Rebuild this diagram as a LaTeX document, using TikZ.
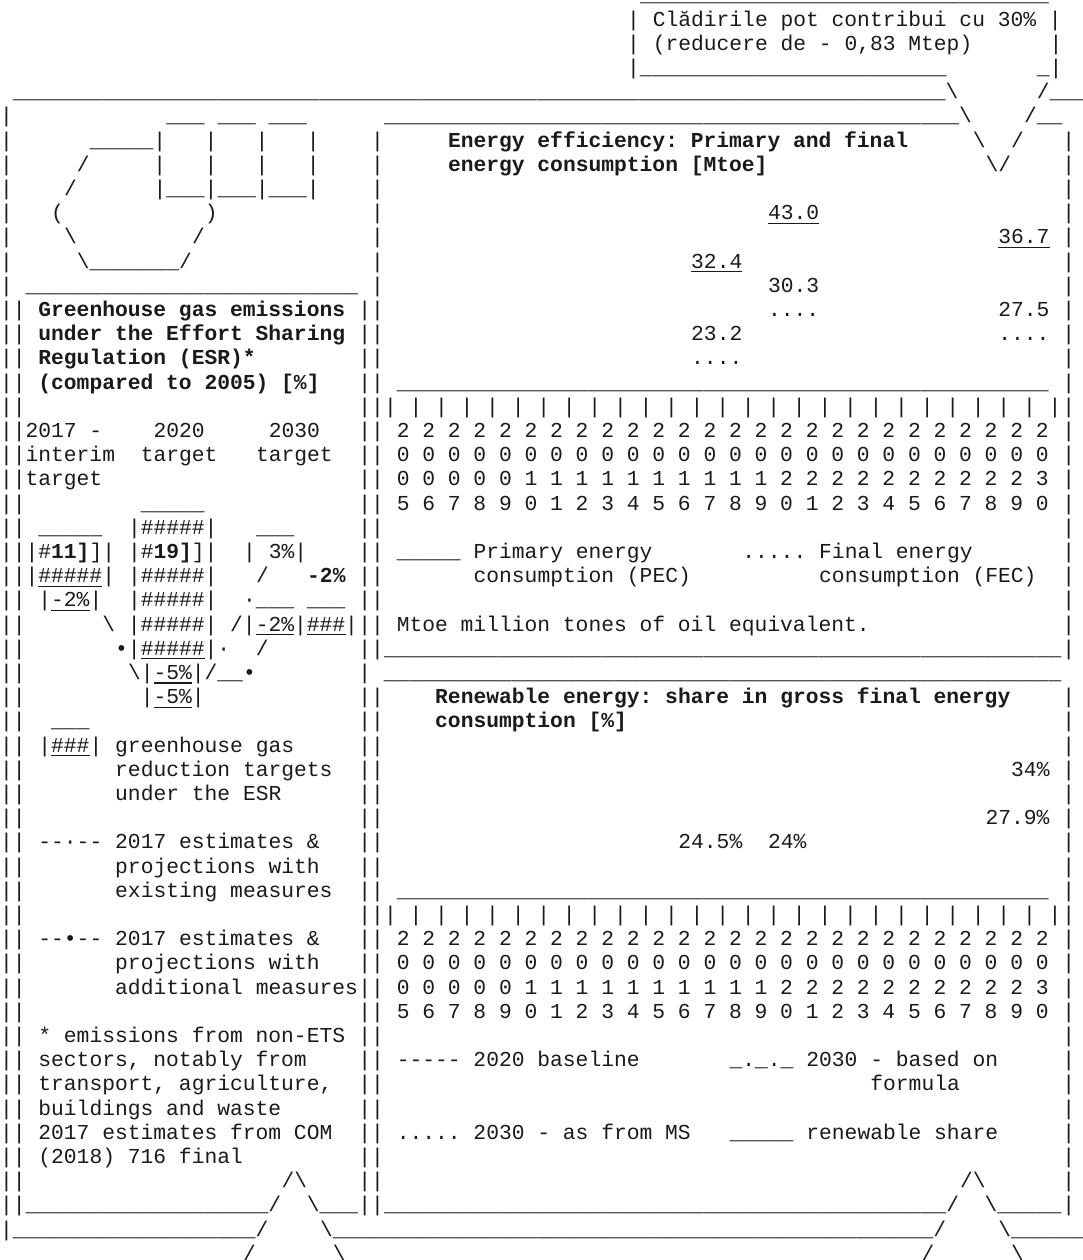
\documentclass[tikz,border=0pt]{standalone}
\usepackage{fontspec}
\setmonofont{Liberation Mono}
\usepackage{tikz}
\definecolor{ink}{HTML}{1A1A1A}
\newcommand{\cw}{12.8}
\newcommand{\rh}{24.2}
\tikzset{
  asc/.style={anchor=base west, inner sep=0pt, outer sep=0pt, text=ink,
    font=\ttfamily\fontsize{10.65pt}{12pt}\selectfont},
  hd/.style={asc, font=\ttfamily\bfseries\fontsize{10.65pt}{12pt}\selectfont},
  uline/.style={draw=ink, line width=0.55pt}
}
% text on the character grid: row, column
\newcommand{\gridtxt}[4][asc]{\node[#1] (c#2x#3) at ({(#3)*\cw},{1.8+(#2)*\rh}) {#4};}
\newcommand{\gridul}[3]{\draw[uline] ({(#2)*\cw},{1.8+(#1)*\rh+3.6}) -- ++({(#3)*\cw},0);}
\newcommand{\us}[1]{\foreach \uk in {1,...,#1}{\_}}
\newcommand{\ticks}{|\foreach \uk in {1,...,26}{~|}}

\begin{document}
\begin{tikzpicture}[x=0.5pt, y=-0.5pt]
  \fill[white] (0,0) rectangle (1083,1260);
  \useasboundingbox (0,0) rectangle (1083,1260);

  % Callout
  \gridtxt{0}{50}{\us{32}}
  \gridtxt{1}{49}{| Clădirile pot contribui cu 30\% |}
  \gridtxt{2}{49}{|}
  \gridtxt{2}{51}{(reducere de - 0,83 Mtep)}
  \gridtxt{2}{82}{|}
  \gridtxt{3}{49}{|\us{24}}
  \gridtxt{3}{81}{\_|}
  \gridtxt{4}{1}{\us{73}\textbackslash}
  \gridtxt{4}{81}{/\us{4}}
  \gridtxt{5}{30}{\us{45}\textbackslash}
  \gridtxt{5}{80}{/\us{2}}
  \gridtxt{6}{76}{\textbackslash}
  \gridtxt{6}{79}{/}
  \gridtxt{7}{77}{\textbackslash/}

  % Frame
  \foreach \r in {5,...,12} {\gridtxt{\r}{0}{|}}
  \foreach \r in {13,...,50} {\gridtxt{\r}{0}{||}}
  \foreach \r in {6,...,12} {\gridtxt{\r}{29}{|}}
  \foreach \r in {13,...,27,29,30,...,50} {\gridtxt{\r}{28}{||}}
  \foreach \r in {6,...,27,29,30,...,50} {\gridtxt{\r}{83}{|}}
  \gridtxt{27}{30}{\us{53}}
  \gridtxt{28}{28}{|~\us{53}}
  \gridtxt{49}{22}{/\textbackslash}
  \gridtxt{49}{75}{/\textbackslash}
  \gridtxt{50}{2}{\us{19}/~~\textbackslash\us{3}}
  \gridtxt{50}{30}{\us{44}/~~\textbackslash\us{5}}
  \gridtxt{51}{0}{|\us{19}/}
  \gridtxt{51}{25}{\textbackslash\us{47}/}
  \gridtxt{51}{78}{\textbackslash\us{7}}
  \gridtxt{52}{19}{/}
  \gridtxt{52}{26}{\textbackslash}
  \gridtxt{52}{72}{/}
  \gridtxt{52}{79}{\textbackslash}

  % Logo
  \gridtxt{5}{13}{\us{3} \us{3} \us{3}}
  \gridtxt{6}{7}{\us{5}|~~~|~~~|~~~|}
  \gridtxt{7}{6}{/~~~~~|~~~|~~~|~~~|}
  \gridtxt{8}{5}{/}
  \gridtxt{8}{12}{|\us{3}|\us{3}|\us{3}|}
  \gridtxt{9}{4}{(}
  \gridtxt{9}{16}{)}
  \gridtxt{10}{5}{\textbackslash}
  \gridtxt{10}{15}{/}
  \gridtxt{11}{6}{\textbackslash\us{7}/}
  \gridtxt{12}{2}{\us{26}}

  % Greenhouse gas panel
  \gridtxt[hd]{13}{3}{Greenhouse gas emissions}
  \gridtxt[hd]{14}{3}{under the Effort Sharing}
  \gridtxt[hd]{15}{3}{Regulation (ESR)*}
  \gridtxt[hd]{16}{3}{(compared to 2005) [\%]}
  \gridtxt{18}{2}{2017 -}
  \gridtxt{18}{12}{2020}
  \gridtxt{18}{21}{2030}
  \gridtxt{19}{2}{interim}
  \gridtxt{19}{11}{target}
  \gridtxt{19}{20}{target}
  \gridtxt{20}{2}{target}
  \gridtxt{21}{11}{\us{5}}
  \gridtxt{22}{3}{\us{5}}
  \gridtxt{22}{10}{|\#\#\#\#\#|}
  \gridtxt{22}{20}{\us{3}}
  \gridtxt{23}{2}{|\#\textbf{11]}]|}
  \gridtxt{23}{10}{|\#\textbf{19]}]|}
  \gridtxt{23}{19}{|~3\%|}
  \gridtxt{24}{2}{|\#\#\#\#\#|}
  \gridul{24}{3}{5}
  \gridtxt{24}{10}{|\#\#\#\#\#|}
  \gridtxt{24}{20}{/}
  \gridtxt[hd]{24}{24}{-2\%}
  \gridtxt{25}{3}{|-2\%|}
  \gridul{25}{4}{3}
  \gridtxt{25}{10}{|\#\#\#\#\#|}
  \gridtxt{25}{19}{·\us{3}~\us{3}}
  \gridtxt{26}{8}{\textbackslash~|\#\#\#\#\#|~/|-2\%|\#\#\#|}
  \gridul{26}{20}{3}
  \gridul{26}{24}{3}
  \gridtxt{27}{9}{•|\#\#\#\#\#|·~~/}
  \gridul{27}{11}{5}
  \gridtxt{28}{10}{\textbackslash|-5\%|/\_\_•}
  \gridul{28}{12}{3}
  \gridtxt{29}{11}{|-5\%|}
  \gridul{29}{12}{3}

  % Legend and notes
  \gridtxt{30}{4}{\us{3}}
  \gridtxt{31}{3}{|\#\#\#|}
  \gridul{31}{4}{3}
  \gridtxt{31}{9}{greenhouse gas}
  \gridtxt{32}{9}{reduction targets}
  \gridtxt{33}{9}{under the ESR}
  \gridtxt{35}{3}{-{}-·-{}-}
  \gridtxt{35}{9}{2017 estimates \&}
  \gridtxt{36}{9}{projections with}
  \gridtxt{37}{9}{existing measures}
  \gridtxt{39}{3}{-{}-•-{}-}
  \gridtxt{39}{9}{2017 estimates \&}
  \gridtxt{40}{9}{projections with}
  \gridtxt{41}{9}{additional measures}
  \gridtxt{43}{3}{* emissions from non-ETS}
  \gridtxt{44}{3}{sectors, notably from}
  \gridtxt{45}{3}{transport, agriculture,}
  \gridtxt{46}{3}{buildings and waste}
  \gridtxt{47}{3}{2017 estimates from COM}
  \gridtxt{48}{3}{(2018) 716 final}

  % Energy efficiency panel
  \gridtxt[hd]{6}{35}{Energy efficiency: Primary and final}
  \gridtxt[hd]{7}{35}{energy consumption [Mtoe]}
  \gridtxt{9}{60}{43.0}
  \gridul{9}{60}{4}
  \gridtxt{10}{78}{36.7}
  \gridul{10}{78}{4}
  \gridtxt{11}{54}{32.4}
  \gridul{11}{54}{4}
  \gridtxt{12}{60}{30.3}
  \gridtxt{13}{60}{....}
  \gridtxt{13}{78}{27.5}
  \gridtxt{14}{54}{23.2}
  \gridtxt{14}{78}{....}
  \gridtxt{15}{54}{....}
  \gridtxt{23}{31}{\us{5}}
  \gridtxt{23}{37}{Primary energy}
  \gridtxt{23}{58}{.....}
  \gridtxt{23}{64}{Final energy}
  \gridtxt{24}{37}{consumption (PEC)}
  \gridtxt{24}{64}{consumption (FEC)}
  \gridtxt{26}{31}{Mtoe million tones of oil equivalent.}

  % Year axes of both charts
  \foreach \o in {0,21} {
    \pgfmathtruncatemacro{\rowa}{16+\o}
    \pgfmathtruncatemacro{\rowb}{17+\o}
    \pgfmathtruncatemacro{\rowc}{18+\o}
    \pgfmathtruncatemacro{\rowd}{19+\o}
    \pgfmathtruncatemacro{\rowe}{20+\o}
    \pgfmathtruncatemacro{\rowf}{21+\o}
    \gridtxt{\rowa}{31}{\us{51}}
    \gridtxt{\rowb}{30}{\ticks}
    \gridtxt{\rowc}{31}{2 2 2 2 2 2 2 2 2 2 2 2 2 2 2 2 2 2 2 2 2 2 2 2 2 2}
    \gridtxt{\rowd}{31}{0 0 0 0 0 0 0 0 0 0 0 0 0 0 0 0 0 0 0 0 0 0 0 0 0 0}
    \gridtxt{\rowe}{31}{0 0 0 0 0 1 1 1 1 1 1 1 1 1 1 2 2 2 2 2 2 2 2 2 2 3}
    \gridtxt{\rowf}{31}{5 6 7 8 9 0 1 2 3 4 5 6 7 8 9 0 1 2 3 4 5 6 7 8 9 0}
  }

  % Renewable energy panel
  \gridtxt[hd]{29}{34}{Renewable energy: share in gross final energy}
  \gridtxt[hd]{30}{34}{consumption [\%]}
  \gridtxt{32}{79}{34\%}
  \gridtxt{34}{77}{27.9\%}
  \gridtxt{35}{53}{24.5\%}
  \gridtxt{35}{60}{24\%}
  \gridtxt{44}{31}{-{}-{}-{}-{}- 2020 baseline}
  \gridtxt{44}{57}{\_.\_.\_}
  \gridtxt{44}{63}{2030 - based on}
  \gridtxt{45}{68}{formula}
  \gridtxt{47}{31}{..... 2030 - as from MS}
  \gridtxt{47}{57}{\us{5}}
  \gridtxt{47}{63}{renewable share}
\end{tikzpicture}
\end{document}
